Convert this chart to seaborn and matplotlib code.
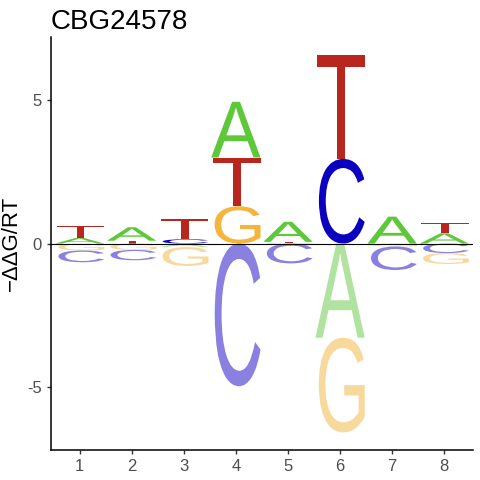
import numpy as np
import pandas as pd
import seaborn as sns
import matplotlib
import matplotlib.pyplot as plt
from matplotlib.textpath import TextPath
from matplotlib.font_manager import FontProperties
from matplotlib.patches import PathPatch
from matplotlib.path import Path

matplotlib.use("Agg")

title = "CBG24578"
positions = [1, 2, 3, 4, 5, 6, 7, 8]
# -ddG/RT per base at each position
a_vals = [0.20, 0.47, -0.12, 1.94, 0.70, -3.28, 0.94, 0.36]
c_vals = [-0.41, -0.36, 0.15, -4.97, -0.69, 2.95, -0.82, -0.33]
g_vals = [-0.24, -0.22, -0.66, 1.30, 0.02, -3.30, -0.10, -0.38]
t_vals = [0.42, 0.10, 0.71, 1.70, 0.04, 3.62, 0.00, 0.37]

pos_colors = {"A": "#5ec83a", "C": "#0b00c0", "G": "#f5b43e", "T": "#b8261e"}
neg_colors = {"A": "#b0e3a0", "C": "#8a80e0", "G": "#f8d99c", "T": "#e39a94"}

df = pd.DataFrame({"pos": positions, "A": a_vals, "C": c_vals, "G": g_vals, "T": t_vals})
long = df.melt(id_vars="pos", var_name="base", value_name="val")

sns.set_theme(style="ticks")
plt.rcParams["font.family"] = ["Liberation Sans", "DejaVu Sans"]
plt.rcParams["axes.unicode_minus"] = False
plt.rcParams["text.color"] = "black"
plt.rcParams["axes.labelcolor"] = "black"

fp = FontProperties(family="Liberation Sans")


def letter_patch(ch, x, y0, y1, color, width=0.95):
    tp = TextPath((0, 0), ch, size=1, prop=fp)
    v = tp.vertices.copy()
    xmin, ymin = v.min(axis=0)
    xmax, ymax = v.max(axis=0)
    v[:, 0] = (v[:, 0] - xmin) / (xmax - xmin) * width + x - width / 2
    v[:, 1] = (v[:, 1] - ymin) / (ymax - ymin) * (y1 - y0) + y0
    return PathPatch(Path(v, tp.codes), facecolor=color, edgecolor="none", lw=0)


fig, ax = plt.subplots(figsize=(4.8, 4.8), dpi=100)
fig.subplots_adjust(left=0.106, right=0.985, bottom=0.062, top=0.923)

for p, grp in long.groupby("pos"):
    up = grp[grp.val > 0].sort_values("val")
    base = 0.0
    for _, r in up.iterrows():
        ax.add_patch(letter_patch(r.base, p, base, base + r.val, pos_colors[r.base]))
        base += r.val
    down = grp[grp.val < 0].sort_values("val", ascending=False)
    base = 0.0
    for _, r in down.iterrows():
        ax.add_patch(letter_patch(r.base, p, base + r.val, base, neg_colors[r.base]))
        base += r.val

ax.axhline(0, color="black", lw=0.8, zorder=5)

ax.set_xlim(0.45, 8.55)
ax.set_ylim(-7.2, 7.2)
ax.set_xticks(positions)
ax.set_yticks([-5, 0, 5])
ax.tick_params(labelsize=12, labelcolor="#4d4d4d", color="#333333", length=3, width=1)
for s in ["left", "bottom"]:
    ax.spines[s].set_linewidth(1.1)
    ax.spines[s].set_color("black")
sns.despine(ax=ax)

ax.set_xlabel("")
ax.set_ylabel("\u2212\u0394\u0394G/RT", fontsize=16, labelpad=4, color="black")
ax.set_title(title, fontsize=20, loc="left", pad=6, color="black")

fig.savefig("out.png", dpi=100)
